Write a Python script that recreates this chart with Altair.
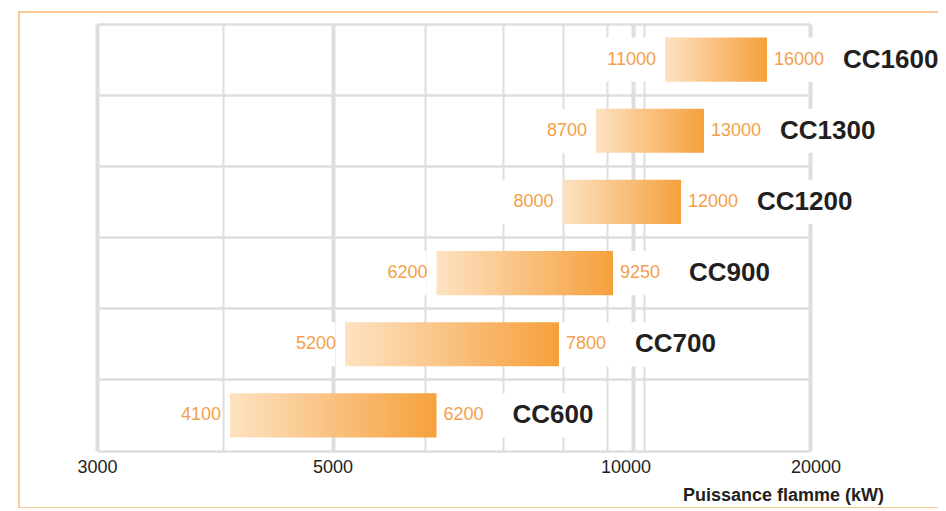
import altair as alt
import pandas as pd

# ---------------- data ----------------
models = ["CC1600", "CC1300", "CC1200", "CC900", "CC700", "CC600"]
p_min = [11000, 8700, 8000, 6200, 5200, 4100]
p_max = [16000, 13000, 12000, 9250, 7800, 6200]

tick_labels = [3000, 5000, 10000, 20000]
grid_values = [3000, 4000, 5000, 6000, 7000, 8000, 9000, 10000, 10500, 20000]

# the original axis is hand drawn (non-uniform); calibrate a piecewise scale
scale_knots = [3000, 4000, 4100, 5000, 5200, 6000, 6200, 7000, 7800, 8000,
               8700, 9000, 9250, 10000, 10500, 11000, 12000, 13000, 16000, 20000]
scale_px = [0, 125.7, 133, 235.5, 248, 328, 339.5, 406, 462, 465.5,
            499, 510, 516, 535.5, 547, 568, 584, 607, 670, 712.5]

# ---------------- styles ----------------
FONT = "Liberation Sans"
GRID = "#dedee0"
ORANGE = "#f4a04a"
DARK = "#231f20"
FRAME = "#f8b874"
W, H = 713, 427

df = pd.DataFrame({"model": models, "pmin": p_min, "pmax": p_max})

major_js = "[" + ",".join(str(v) for v in tick_labels) + "]"

xscale = alt.Scale(type="linear", domain=scale_knots, range=scale_px, nice=False, zero=False)
yscale = alt.Scale(domain=models, range=[0, H], paddingInner=0, paddingOuter=0)

x_axis = alt.Axis(
    values=grid_values,
    grid=True,
    gridColor=GRID,
    gridWidth=alt.ExprRef(expr=f"indexof({major_js}, datum.value) >= 0 ? 4 : 2"),
    ticks=False,
    domain=True,
    domainColor=GRID,
    domainWidth=2.5,
    labelExpr=f"indexof({major_js}, datum.value) >= 0 ? format(datum.value, 'd') : ''",
    labelFont=FONT,
    labelFontSize=18,
    labelColor=DARK,
    labelPadding=7,
    labelFlush=False,
    labelOffset=alt.ExprRef(expr="datum.value == 10000 ? -7 : (datum.value == 20000 ? 6 : 0)"),
    title="Puissance flamme (kW)",
    titleFont=FONT,
    titleFontSize=18,
    titleFontWeight="bold",
    titleColor=DARK,
    titleX=686,
    titleY=44,
    titleAlign="center",
    titleBaseline="middle",
)
y_axis = alt.Axis(
    labels=False, ticks=False, domain=False, grid=True,
    gridColor=GRID, gridWidth=2.5, bandPosition=0, title=None,
)


def X(field):
    return alt.X(field, scale=xscale, axis=x_axis)


def Y():
    return alt.Y("model:N", scale=yscale, axis=y_axis, sort=models)


base = alt.Chart(df)

gradient = alt.Gradient(
    gradient="linear",
    stops=[alt.GradientStop(color="#fde2c2", offset=0),
           alt.GradientStop(color="#f6a03c", offset=1)],
    x1=0, x2=1, y1=0, y2=0,
)

band = {"band": 0.62}

# white boxes behind labels (interrupt the grid like the original)
box_left = base.mark_bar(color="white", height=band, xOffset=-64, x2Offset=-10).encode(
    x=X("pmin:Q"), x2="pmin:Q", y=Y()
)
box_right5 = base.transform_filter("length(datum.model) == 5").mark_bar(
    color="white", height=band, x2Offset=160
).encode(x=X("pmax:Q"), x2="pmax:Q", y=Y())
box_right6 = base.transform_filter("length(datum.model) == 6").mark_bar(
    color="white", height=band, x2Offset=175
).encode(x=X("pmax:Q"), x2="pmax:Q", y=Y())

bars = base.mark_bar(color=gradient, height=band).encode(
    x=X("pmin:Q"), x2="pmax:Q", y=Y()
)

lbl_min = base.mark_text(align="right", baseline="middle", dx=-9, font=FONT,
                         fontSize=18, color=ORANGE).encode(
    x=X("pmin:Q"), y=Y(), text=alt.Text("pmin:Q", format="d")
)
lbl_max = base.mark_text(align="left", baseline="middle", dx=7, font=FONT,
                         fontSize=18, color=ORANGE).encode(
    x=X("pmax:Q"), y=Y(), text=alt.Text("pmax:Q", format="d")
)
lbl_model = base.mark_text(align="left", baseline="middle", dx=76, font=FONT,
                           fontSize=26, fontWeight="bold", color=DARK).encode(
    x=X("pmax:Q"), y=Y(), text="model:N"
)

frame = alt.Chart(pd.DataFrame({"k": [0]})).mark_rect(
    filled=False, stroke=FRAME, strokeWidth=1.5
).encode(
    x=alt.value(-78), x2=alt.value(845), y=alt.value(-12), y2=alt.value(484)
)

chart = alt.layer(
    box_left, box_right5, box_right6, bars, lbl_min, lbl_max, lbl_model, frame
).properties(
    width=W, height=H,
    autosize=alt.AutoSizeParams(type="none"),
    padding={"left": 89, "top": 16, "right": 128, "bottom": 57},
    background="white",
).configure_view(stroke=None)

chart.save("out.html", embed_options={"renderer": "svg", "actions": False})
